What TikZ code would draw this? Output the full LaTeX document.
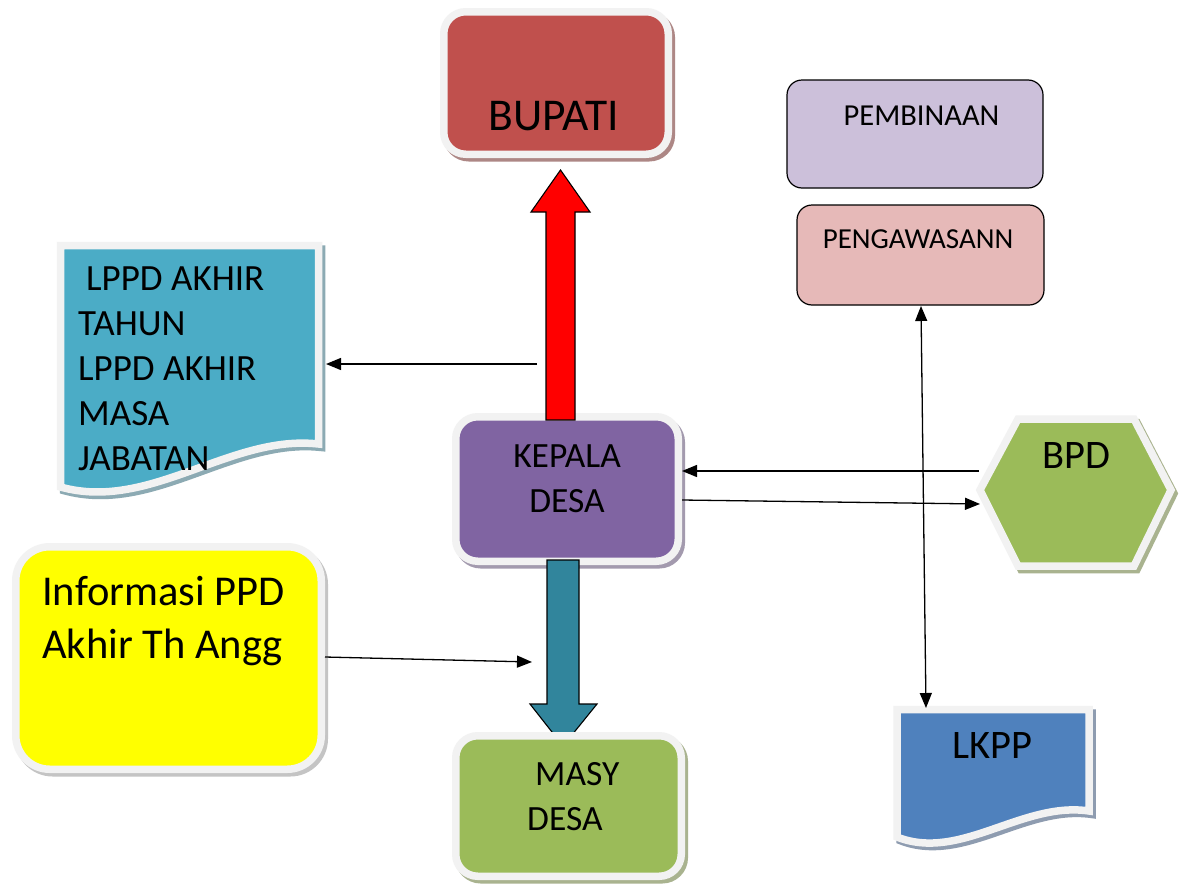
\documentclass[tikz,border=0pt]{standalone}
\usepackage{fontspec}
\setmainfont{Carlito}
\usetikzlibrary{arrows.meta}
\definecolor{bord}{HTML}{F2F2F2}
\definecolor{cbupati}{HTML}{C0504D}
\definecolor{sbupati}{HTML}{AD8785}
\definecolor{ckepala}{HTML}{8064A2}
\definecolor{skepala}{HTML}{A39AAE}
\definecolor{cgreen}{HTML}{9BBB59}
\definecolor{sgreen}{HTML}{A9B38F}
\definecolor{cyellow}{HTML}{FFFF00}
\definecolor{syellow}{HTML}{C4C4C4}
\definecolor{clppd}{HTML}{4BACC6}
\definecolor{slppd}{HTML}{8CAAB3}
\definecolor{clkpp}{HTML}{4F81BD}
\definecolor{slkpp}{HTML}{8E9CB0}
\definecolor{cpemb}{HTML}{CCC0DA}
\definecolor{cpeng}{HTML}{E6B9B8}
\definecolor{cteal}{HTML}{31859C}
\begin{document}
\begin{tikzpicture}[x=1pt,y=-1pt,
  sbox/.style 2 args={draw=bord, line width=7.5pt, fill=#1, inner sep=0pt,
     preaction={draw=#2, fill=#2, line width=7.5pt, transform canvas={shift={(3pt,-3.5pt)}}}},
  sshape/.style 2 args={draw=bord, line width=7.5pt, fill=#1, line join=miter,
     preaction={draw=#2, fill=#2, line width=7.5pt, transform canvas={shift={(3pt,-3.5pt)}}}},
  pbox/.style={draw=black, line width=1.2pt, fill=#1, rounded corners=15pt, inner sep=0pt},
  txt/.style={inner sep=0pt, text=black},
  conn/.style={line width=1.3pt, draw=black},
  tip/.tip={Triangle[length=15pt,width=12pt]},
  bigarrow/.style={draw=black, line width=1.1pt, fill=#1, line join=miter}
]
\useasboundingbox[fill=white] (0,0) rectangle (1185,886);

% Informasi box
\node[sbox={cyellow}{syellow}, rounded corners=34pt, minimum width=305.5pt, minimum height=222.5pt] (info) at (168.5,658) {};
\node[txt, font=\fontsize{42.5}{53}\selectfont, anchor=base west, align=left] (tinfo) at (42,658) {Informasi PPD\\Akhir Th Angg};

% LPPD document
\path[sshape={clppd}{slppd}] (60.5,245.5) -- (318.5,245.5) -- (318.5,444) .. controls (230,434) and (150,512) .. (60.5,487) -- cycle;
\node[txt, font=\fontsize{37}{45}\selectfont, anchor=base west, align=left] (tlppd) at (78,470) {\hspace*{8pt}LPPD AKHIR\\TAHUN\\LPPD AKHIR\\MASA\\JABATAN};
\coordinate (lppdR) at (326,364);

% BUPATI
\node[sbox={cbupati}{sbupati}, rounded corners=22pt, minimum width=224.5pt, minimum height=142.5pt] (bupati) at (556,83) {};
\node[txt, font=\fontsize{45.5}{53}\selectfont, anchor=base] (tbupati) at (554,130) {BUPATI};

% KEPALA DESA
\node[sbox={ckepala}{skepala}, rounded corners=22pt, minimum width=222.5pt, minimum height=144.5pt] (kepala) at (567,489) {};

% red arrow up
\path[bigarrow=red] (546,420) -- (546,212) -- (531,212) -- (560.5,170) -- (590,212) -- (575,212) -- (575,420) -- cycle;
\coordinate (redL) at (537,364);

\node[txt, font=\fontsize{35.5}{45}\selectfont, anchor=base, align=center] (tkepala) at (567,512) {KEPALA\\DESA};

% teal arrow down
\path[bigarrow=cteal] (547,560) -- (579,560) -- (579,704) -- (597,704) -- (563,746) -- (530,704) -- (547,704) -- cycle;
\coordinate (tealL) at (532,662);

% MASY DESA
\node[sbox={cgreen}{sgreen}, rounded corners=22pt, minimum width=225.5pt, minimum height=140.5pt] (masy) at (568.5,806) {};
\node[txt, font=\fontsize{35.5}{45}\selectfont, anchor=base west, align=left] (tmasy) at (527,830) {\hspace*{8pt}MASY\\DESA};

% PEMBINAAN / PENGAWASANN
\node[pbox=cpemb, minimum width=256pt, minimum height=108pt] (pemb) at (915,134) {};
\node[txt, font=\fontsize{30.5}{36}\selectfont, anchor=base] (tpemb) at (921.5,125) {PEMBINAAN};
\node[pbox=cpeng, minimum width=247pt, minimum height=100pt] (peng) at (920.5,255) {};
\node[txt, font=\fontsize{29}{35}\selectfont, anchor=base] (tpeng) at (918,248) {PENGAWASANN};

% BPD hexagon
\path[sshape={cgreen}{sgreen}] (980,490) -- (1018,419) -- (1134,419) -- (1171,490) -- (1134,566) -- (1018,566) -- cycle;
\node[txt, font=\fontsize{40.5}{48}\selectfont, anchor=base] (tbpd) at (1076.5,468) {BPD};
\coordinate (bpdA) at (979,471);
\coordinate (bpdB) at (980,504);

% LKPP document
\path[sshape={clkpp}{slkpp}] (897,709.5) -- (1089,709.5) -- (1089,811) .. controls (1022,801) and (960,862) .. (897,837) -- cycle;
\node[txt, font=\fontsize{40.5}{48}\selectfont, anchor=base] (tlkpp) at (992.5,758) {LKPP};
\coordinate (lkppT) at (926,708);
\coordinate (pengB) at (921,306);

% connectors
\draw[conn, -tip] (redL) -- (lppdR);
\draw[conn, -tip] (bpdA) -- (kepala.east |- bpdA);
\draw[conn, -tip] (kepala.east |- 0,500) -- (bpdB);
\draw[conn, tip-tip] (pengB) -- (lkppT);
\draw[conn, -tip] (info.east |- 0,657) -- (tealL);
\end{tikzpicture}
\end{document}
